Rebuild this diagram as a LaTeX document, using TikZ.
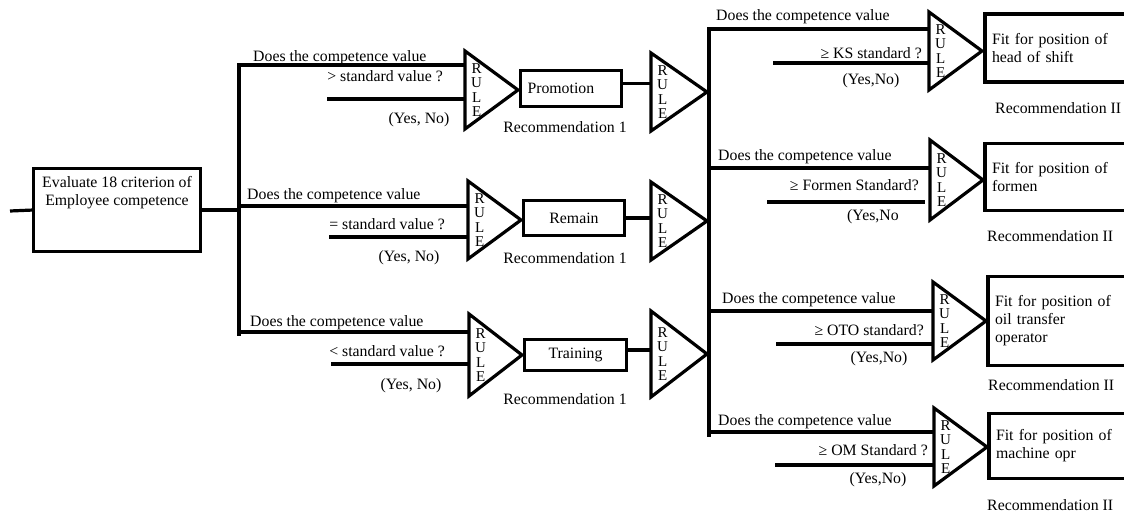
\documentclass[tikz,border=0pt]{standalone}
\usepackage{fontspec}
\setmainfont{Liberation Serif}
\usetikzlibrary{positioning,shapes.geometric}

\tikzset{
  wire/.style={line width=3.2pt},
  box/.style={draw, line width=3.2pt, inner sep=0pt, outer sep=0pt},
  % minimum height runs along the axis, minimum width along the base
  ruletri/.style={draw, line width=3.2pt, isosceles triangle, isosceles triangle stretches,
    shape border rotate=0, minimum height=53pt, minimum width=78pt, inner sep=0pt, outer sep=0pt},
  ruletxt/.style={align=center, inner sep=0pt, font=\fontsize{15pt}{14.3pt}\selectfont},
  txt/.style={inner sep=0pt},
  fitbox/.style={box, anchor=west, minimum width=150pt, inner xsep=7pt, text width=136pt, align=left}
}

\begin{document}
\begin{tikzpicture}[x=1pt, y=-1pt, font=\fontsize{15.8pt}{18pt}\selectfont]
  \useasboundingbox (0,0) rectangle (1124,513);
  \clip (0,0) rectangle (1124,513);

  % Evaluation box and left bus
  \coordinate (in) at (10,211);
  \node[box, minimum width=167pt, minimum height=83pt] (eval) at (117,210) {};
  \node[txt, align=center, below=8pt of eval.north] (evaltxt) {Evaluate 18 criterion of\\Employee competence};
  \coordinate (lbTop) at (239,65);
  \coordinate (lb2) at (239,206);
  \coordinate (lb3) at (239,332);
  \coordinate (lbBot) at (239,336);

  % First rule stage
  \node[ruletri, anchor=apex] (r1a) at (518,90) {};
  \node[ruletri, anchor=apex] (r2a) at (521,220) {};
  \node[ruletri, anchor=apex, minimum width=82pt] (r3a) at (522,355) {};

  % Recommendation 1 boxes
  \node[box, minimum width=101pt, minimum height=36pt, text width=87pt, align=left] (promo) at (571,88.5) {Promotion};
  \node[box, minimum width=101pt, minimum height=35pt] (remain) at (574,218) {Remain};
  \node[box, minimum width=102pt, minimum height=31pt] (train) at (575.5,355) {Training};

  % Second rule stage
  \node[ruletri, anchor=apex, minimum height=56pt] (r1b) at (707,92) {};
  \node[ruletri, anchor=apex, minimum height=56pt] (r2b) at (707,221) {};
  \node[ruletri, anchor=apex, minimum height=56pt, minimum width=86pt] (r3b) at (707,354) {};

  % Right bus
  \coordinate (rbTop) at (709,29);
  \coordinate (rb2) at (709,168);
  \coordinate (rb3) at (709,311);
  \coordinate (rb4) at (709,432);
  \coordinate (rbBot) at (709,437);

  % Position rules
  \node[ruletri, anchor=apex] (rA) at (982,51) {};
  \node[ruletri, anchor=apex, minimum width=80pt] (rB) at (983,180) {};
  \node[ruletri, anchor=apex] (rC) at (986,321) {};
  \node[ruletri, anchor=apex] (rD) at (987,447) {};

  % Recommendation II boxes
  \node[fitbox, minimum height=68pt] (fA) at (985,48) {Fit for position of\\head of shift};
  \node[fitbox, minimum height=67pt] (fB) at (985,177) {Fit for position of\\formen};
  \node[fitbox, minimum height=89pt] (fC) at (988,321) {Fit for position of\\oil transfer\\operator};
  \node[fitbox, minimum height=65pt] (fD) at (989,446) {Fit for position of\\machine opr};

  % RULE letters
  \foreach \t in {r1a,r2a,r3a,r1b,r2b,r3b,rA,rB,rC,rD}
    \node[ruletxt, right=6pt of \t.west] (\t-lbl) {R\\U\\L\\E};

  % Wires
  \draw[wire] (in) -- (eval.west);
  \draw[wire] (eval.east) -- (eval.east -| lbTop);
  \draw[wire] (r1a.west |- lbTop) -- (lbTop) -- (lbBot);
  \draw[wire] (lb2) -- (lb2 -| r2a.west);
  \draw[wire] (lb3) -- (lb3 -| r3a.west);
  \coordinate (q1) at (327,99);
  \coordinate (q2) at (329,237);
  \coordinate (q3) at (331,364);
  \draw[wire] (q1) -- (q1 -| r1a.west);
  \draw[wire] (q2) -- (q2 -| r2a.west);
  \draw[wire] (q3) -- (q3 -| r3a.west);
  \draw[wire] ([yshift=5pt]promo.east) -- ([yshift=5pt]promo.east -| r1b.west);
  \draw[wire] (remain.east) -- (remain.east -| r2b.west);
  \draw[wire] ([yshift=5pt]train.east) -- ([yshift=5pt]train.east -| r3b.west);

  \draw[wire] (rA.west |- rbTop) -- (rbTop) -- (rbBot);
  \draw[wire] (rb2) -- (rb2 -| rB.west);
  \draw[wire] (rb3) -- (rb3 -| rC.west);
  \draw[wire] (rb4) -- (rb4 -| rD.west);
  \coordinate (sA) at (773,63);
  \coordinate (sB) at (767,202);
  \coordinate (sC) at (776,344);
  \coordinate (sD) at (775,465);
  \draw[wire] (sA) -- (sA -| rA.west);
  \draw[wire] (sB) -- ([xshift=-5pt]sB -| rB.west);
  \draw[wire] (sC) -- (sC -| rC.west);
  \draw[wire] (sD) -- (sD -| rD.west);

  % Questions
  \foreach \x/\y [count=\i] in {253/58, 247/196, 250/323, 716/17, 718/157, 722/300, 718/422}
    \node[txt, anchor=west] (ask\i) at (\x,\y) {Does the competence value};

  \node[txt, anchor=east] (cmp1) at (443,76) {> standard value ?};
  \node[txt, anchor=east] (cmp2) at (445,224) {= standard value ?};
  \node[txt, anchor=east] (cmp3) at (445,351) {< standard value ?};
  \node[txt, anchor=east] (cmpA) at (922,53) {≥ KS standard ?};
  \node[txt, anchor=east] (cmpB) at (919,185) {≥ Formen Standard?};
  \node[txt, anchor=east] (cmpC) at (924,330) {≥ OTO standard?};
  \node[txt, anchor=east] (cmpD) at (928,450) {≥ OM Standard ?};

  % Answers
  \foreach \x/\y [count=\i] in {419/120, 409/258, 411/386}
    \node[txt] (yn\i) at (\x,\y) {(Yes, No)};
  \node[txt] (ynA) at (871,81) {(Yes,No)};
  \node[txt, anchor=west] (ynB) at (847,217) {(Yes,No};
  \node[txt] (ynC) at (879,359) {(Yes,No)};
  \node[txt] (ynD) at (878,480) {(Yes,No)};

  % Recommendation labels
  \foreach \y [count=\i] in {127, 258, 399}
    \node[txt] (rec\i) at (565,\y) {Recommendation 1};
  \foreach \x/\y [count=\i] in {995/108, 987/236, 988/385, 987/505}
    \node[txt, anchor=west] (recII\i) at (\x,\y) {Recommendation II};
\end{tikzpicture}
\end{document}
